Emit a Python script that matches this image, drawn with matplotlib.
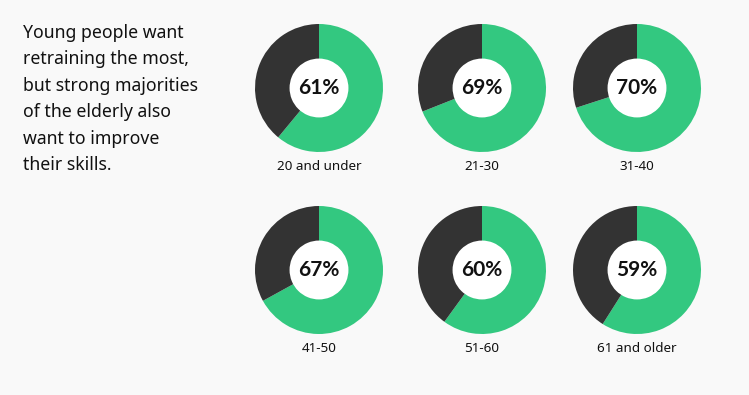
import matplotlib
matplotlib.use("Agg")
import matplotlib.pyplot as plt

groups = ["20 and under", "21-30", "31-40", "41-50", "51-60", "61 and older"]
shares = [61, 69, 70, 67, 60, 59]
title_lines = ["Young people want", "retraining the most,", "but strong majorities",
               "of the elderly also", "want to improve", "their skills."]

GREEN = "#33c880"
DARK = "#333333"
BG = "#f9f9f9"

W, H = 749, 395
fig = plt.figure(figsize=(W / 100, H / 100), dpi=100, facecolor=BG)

plt.rcParams['font.family'] = ['Noto Sans', 'DejaVu Sans']

# title text
y0 = 33
for i, line in enumerate(title_lines):
    fig.text(23 / W, 1 - (y0 + i * 26.4) / H, line, ha="left", va="center",
             fontsize=12.7, color="#111111")

col_x = [319, 482, 637]
row_y = [88, 270]
R = 64
inner = 0.46

for k, (g, s) in enumerate(zip(groups, shares)):
    cx = col_x[k % 3]
    cy = row_y[k // 3]
    ax = fig.add_axes([(cx - R) / W, 1 - (cy + R) / H, 2 * R / W, 2 * R / H])
    ax.pie([s, 100 - s], colors=[GREEN, DARK], startangle=90, counterclock=False,
           radius=1.0, wedgeprops=dict(linewidth=0))
    ax.pie([1], colors=["white"], radius=inner, wedgeprops=dict(linewidth=0))
    ax.set_xlim(-1, 1)
    ax.set_ylim(-1, 1)
    ax.set_aspect("equal")
    ax.axis("off")
    ax.text(0, 0.0, f"{s}%", ha="center", va="center", fontsize=15,
            fontweight="bold", family=["Lato", "DejaVu Sans"], color="#111111")
    fig.text(cx / W, 1 - (cy + 78) / H, g, ha="center", va="center",
             fontsize=9.7, color="#111111")

fig.savefig("out.png", dpi=100, facecolor=BG)
